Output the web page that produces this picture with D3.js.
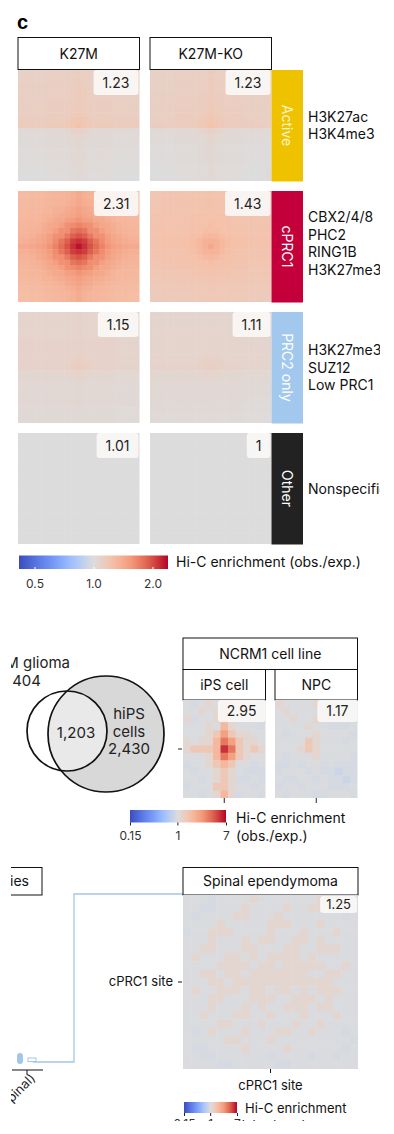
<!DOCTYPE html>
<html>
<head>
<meta charset="utf-8">
<script src="https://cdn.jsdelivr.net/npm/d3@7"></script>
<style>
  body { margin: 0; background: #fff; }
  svg { display: block; font-family: Inter, "Noto Sans", sans-serif; }
</style>
</head>
<body>
<div id="chart"></div>
<script>
// ---- data ----
const conditions = ["K27M", "K27M-KO"];
const siteClasses = ["Active", "cPRC1", "PRC2 only", "Other"];
const siteMarks = [
    ["H3K27ac", "H3K4me3"],
    ["CBX2/4/8", "PHC2", "RING1B", "H3K27me3"],
    ["H3K27me3", "SUZ12", "Low PRC1"],
    ["Nonspecific"]
];
const apaScores = [[1.23, 1.23], [2.31, 1.43], [1.15, 1.11], [1.01, 1]];

// aggregate maps: row profile, column profile (21 bins, centre = site)
// and a radial peak factor by distance (in bins) from the centre
const activeK27M_rows = [1.10,1.10,1.10,1.11,1.11,1.11,1.12,1.12,1.12,1.13,1.14,1.03,1.02,1.02,1.02,1.01,1.01,1.01,1.01,1.00,1.00];
const activeK27M_cols = [1.00,1.00,1.00,1.00,1.00,1.01,1.01,1.01,1.01,1.02,1.03,1.02,1.01,1.01,1.01,1.01,1.00,1.00,1.00,1.00,1.00];
const activeK27M_peak = [1.05,1.03,1.01,1.00,1.00,1.00,1.00,1.00,1.00,1.00,1.00,1.00,1.00,1.00,1.00];
const activeKO_rows   = [1.10,1.10,1.10,1.10,1.11,1.11,1.11,1.12,1.12,1.12,1.13,1.03,1.02,1.02,1.01,1.01,1.01,1.01,1.00,1.00,1.00];
const activeKO_cols   = [1.00,1.00,1.00,1.00,1.01,1.01,1.01,1.01,1.02,1.02,1.04,1.02,1.02,1.01,1.01,1.01,1.00,1.00,1.00,1.00,0.99];
const activeKO_peak   = [1.045,1.03,1.01,1.00,1.00,1.00,1.00,1.00,1.00,1.00,1.00,1.00,1.00,1.00,1.00];
const cprc1K27M_rows  = [1.14,1.14,1.14,1.15,1.15,1.16,1.17,1.18,1.19,1.21,1.25,1.21,1.19,1.18,1.17,1.16,1.15,1.14,1.13,1.12,1.12];
const cprc1K27M_cols  = [1.13,1.13,1.14,1.14,1.15,1.16,1.17,1.18,1.19,1.21,1.25,1.21,1.19,1.18,1.17,1.16,1.15,1.14,1.14,1.13,1.13];
const cprc1K27M_peak  = [1.48,1.42,1.33,1.23,1.15,1.09,1.05,1.03,1.01,1.00,1.00,1.00,1.00,1.00,1.00];
const cprc1KO_rows    = [1.10,1.10,1.10,1.10,1.11,1.11,1.11,1.11,1.12,1.12,1.12,1.11,1.11,1.10,1.10,1.09,1.08,1.07,1.06,1.05,1.05];
const cprc1KO_cols    = [1.09,1.09,1.10,1.10,1.10,1.10,1.10,1.11,1.11,1.11,1.12,1.11,1.11,1.11,1.10,1.10,1.10,1.09,1.09,1.09,1.09];
const cprc1KO_peak    = [1.14,1.09,1.05,1.02,1.01,1.00,1.00,1.00,1.00,1.00,1.00,1.00,1.00,1.00,1.00];
const prc2K27M_rows   = [1.06,1.06,1.06,1.06,1.06,1.07,1.07,1.07,1.07,1.07,1.08,1.04,1.04,1.03,1.03,1.03,1.03,1.03,1.02,1.02,1.02];
const prc2K27M_cols   = [1.01,1.01,1.01,1.01,1.01,1.01,1.01,1.01,1.01,1.01,1.02,1.01,1.01,1.01,1.01,1.01,1.01,1.00,1.00,1.00,1.00];
const prc2K27M_peak   = [1.05,1.02,1.01,1.00,1.00,1.00,1.00,1.00,1.00,1.00,1.00,1.00,1.00,1.00,1.00];
const prc2KO_rows     = [1.04,1.04,1.04,1.05,1.05,1.05,1.05,1.05,1.05,1.05,1.06,1.03,1.03,1.02,1.02,1.02,1.01,1.01,1.01,1.00,1.00];
const prc2KO_cols     = [1.02,1.02,1.02,1.02,1.02,1.02,1.02,1.02,1.02,1.02,1.02,1.02,1.02,1.02,1.02,1.02,1.01,1.01,1.01,1.01,1.01];
const prc2KO_peak     = [1.03,1.02,1.01,1.00,1.00,1.00,1.00,1.00,1.00,1.00,1.00,1.00,1.00,1.00,1.00];
const otherK27M_rows  = [1.00,1.00,1.00,1.00,1.00,1.00,1.00,1.00,1.00,1.00,1.00,1.00,1.00,1.00,1.00,1.00,1.00,1.00,1.00,1.00,1.00];
const otherK27M_cols  = [1.00,1.00,1.00,1.00,1.00,1.00,1.00,1.00,1.00,1.00,1.00,1.00,1.00,1.00,1.00,1.00,1.00,1.00,1.00,1.00,1.00];
const otherK27M_peak  = [1.01,1.00,1.00,1.00,1.00,1.00,1.00,1.00,1.00,1.00,1.00,1.00,1.00,1.00,1.00];
const otherKO_rows    = [1.00,1.00,1.00,1.00,1.00,1.00,1.00,1.00,1.00,1.00,1.00,1.00,1.00,1.00,1.00,1.00,1.00,1.00,1.00,1.00,1.00];
const otherKO_cols    = [1.00,1.00,1.00,1.00,1.00,1.00,1.00,1.00,1.00,1.00,1.00,1.00,1.00,1.00,1.00,1.00,1.00,1.00,1.00,1.00,1.00];
const otherKO_peak    = [1.00,1.00,1.00,1.00,1.00,1.00,1.00,1.00,1.00,1.00,1.00,1.00,1.00,1.00,1.00];

const topTicks = [0.5, 1.0, 2.0];

// Venn
const vennGroups = ["K27M glioma", "hiPS cells"];
const vennCounts = ["1,404", "1,203", "2,430"];

// NCRM1 maps, one digit per bin (digit = index into binLevels)
const binLevels = [0.72, 0.87, 0.95, 1.0, 1.16, 1.45, 1.85, 2.5, 3.5, 5.5];
const ncrmLines = ["iPS cell", "NPC"];
const ncrmScores = [2.95, 1.17];
const ipsBins = [
    "32343534332",
    "33434543323",
    "42334543233",
    "33343643332",
    "33345754433",
    "43446875443",
    "45556985454",
    "33346875433",
    "23345653323",
    "32334543222",
    "33234542232",
    "23335543323",
    "33234642332"
];
const npcBins = [
    "43333433232",
    "34333333323",
    "33433433332",
    "33334332223",
    "32333433332",
    "33335433323",
    "33345433333",
    "32333433332",
    "22323323222",
    "23332322122",
    "32233232212",
    "23323332223",
    "32333223332"
];
const bottomTicks = [0.15, 1, 7];

// spinal ependymoma map
const spinalScore = 1.25;
const spinalBins = [
    "333233334333333343333",
    "332233343333433443333",
    "323333443334333333323",
    "333343333344433343333",
    "233444333343334333433",
    "333433343443344343333",
    "334433344333443344433",
    "343334434344443433333",
    "333344443443444443343",
    "334434434444444334433",
    "333443444444444444333",
    "343344434434434344433",
    "333443334443344434333",
    "333433343433444344333",
    "334333443343334333433",
    "333344333433343343333",
    "323433343334433433323",
    "333334433343333333332",
    "322333343333433333323",
    "332233333323333233233",
    "333322333332233333333"
];

// ---- styles ----
const classColors = ["#efc200", "#c4003a", "#a2c8ee", "#222222"];
const classTextColors = ["#fff4c8", "#ffffff", "#ffffff", "#ffffff"];
const coolwarm = d3.piecewise(d3.interpolateRgb, ["#3b4cc0", "#5a78e4", "#7b9ff9", "#a9c6fd", "#dddcdc", "#f5c1a9", "#f49a7b", "#dc5d4a", "#b40426"]);
const topColor = d3.scaleSequentialLog(coolwarm).domain([1 / 2.4, 2.4]).clamp(true);
const bottomColor = d3.scaleSequentialLog(coolwarm).domain([0.15, 7]).clamp(true);

const width = 394, height = 1134;
const svg = d3.select("#chart").append("svg")
    .attr("width", width)
    .attr("height", height);

const defs = svg.append("defs");
// the figure is a crop: nothing left of x=11, right of x=380, below y=1121
defs.append("clipPath").attr("id", "page")
    .append("rect").attr("x", 11).attr("y", 0).attr("width", 369).attr("height", 1121);

const root = svg.append("g").attr("clip-path", "url(#page)");

// ---- helpers ----
function drawGrid(g, grid, x0, y0, w, h, color) {
    const nr = grid.length, nc = grid[0].length;
    const x = d3.scaleBand().domain(d3.range(nc)).range([x0, x0 + w]);
    const y = d3.scaleBand().domain(d3.range(nr)).range([y0, y0 + h]);
    const cells = grid.flatMap((row, i) => row.map((v, j) => ({ i, j, v })));
    g.selectAll(null)
        .data(cells)
        .enter()
        .append("rect")
        .attr("x", d => x(d.j))
        .attr("y", d => y(d.i))
        .attr("width", d => x.bandwidth() + (d.j < nc - 1 ? 0.5 : 0))
        .attr("height", d => y.bandwidth() + (d.i < nr - 1 ? 0.5 : 0))
        .attr("fill", d => color(d.v));
    return { x, y };
}

function valueTag(g, label, right, top, fs, h) {
    const tag = g.append("g");
    const rect = tag.append("rect");
    const t = tag.append("text")
        .attr("font-size", fs)
        .attr("fill", "#222")
        .attr("text-anchor", "middle")
        .text(label);
    const tw = t.node().getComputedTextLength();
    const bw = tw + (fs > 13 ? 18 : 12);
    rect.attr("x", right - bw).attr("y", top)
        .attr("width", bw).attr("height", h)
        .attr("rx", 3)
        .attr("fill", "#faf7f5")
        .attr("fill-opacity", 0.93);
    t.attr("x", right - bw / 2).attr("y", top + h / 2).attr("dy", "0.36em");
}

function headerBox(g, label, x0, y0, w, h, anchor, tx) {
    g.append("rect")
        .attr("x", x0).attr("y", y0)
        .attr("width", w).attr("height", h)
        .attr("fill", "#fff")
        .attr("stroke", "#111")
        .attr("stroke-width", 1);
    g.append("text")
        .attr("x", tx !== undefined ? tx : x0 + w / 2)
        .attr("y", y0 + h / 2)
        .attr("dy", "0.36em")
        .attr("text-anchor", anchor || "middle")
        .attr("font-size", 14)
        .attr("fill", "#111")
        .text(label);
}

function colorBar(g, id, color, ticks, x0, x1, y0, h, tickFmt, tickStyle, pad) {
    const grad = defs.append("linearGradient").attr("id", id);
    d3.range(0, 1.0001, 0.05).forEach(t => {
        grad.append("stop").attr("offset", t).attr("stop-color", coolwarm(t));
    });
    g.append("rect")
        .attr("x", x0).attr("y", y0)
        .attr("width", x1 - x0).attr("height", h)
        .attr("fill", `url(#${id})`);
    const scale = d3.scaleLog().domain(color.domain()).range([x0, x1]);
    const axis = g.append("g")
        .attr("transform", `translate(0,${y0 + h})`)
        .call(d3.axisBottom(scale).tickValues(ticks).tickFormat(tickFmt)
            .tickSize(tickStyle === "inner" ? -2 : 3).tickPadding(pad));
    axis.select(".domain").remove();
    axis.selectAll(".tick line")
        .attr("stroke", tickStyle === "inner" ? "#fff" : "#222");
    axis.selectAll(".tick text")
        .attr("font-size", 12)
        .attr("font-family", "Inter, sans-serif")
        .attr("fill", "#333");
    return scale;
}

// ---- panel c: aggregate maps by site class ----
root.append("text")
    .attr("x", 17).attr("y", 29)
    .attr("font-size", 20)
    .attr("font-weight", "900")
    .attr("font-family", "Arial, 'Liberation Sans', sans-serif")
    .text("c");

const mapX = [18, 150];
const mapW = 121.5;
const rowY = [70, 191, 312, 433];
const mapH = 111;

conditions.forEach((c, k) => headerBox(root, c, mapX[k], 37.5, mapW, 32));

const profiles = [
    [[activeK27M_rows, activeK27M_cols, activeK27M_peak], [activeKO_rows, activeKO_cols, activeKO_peak]],
    [[cprc1K27M_rows, cprc1K27M_cols, cprc1K27M_peak], [cprc1KO_rows, cprc1KO_cols, cprc1KO_peak]],
    [[prc2K27M_rows, prc2K27M_cols, prc2K27M_peak], [prc2KO_rows, prc2KO_cols, prc2KO_peak]],
    [[otherK27M_rows, otherK27M_cols, otherK27M_peak], [otherKO_rows, otherKO_cols, otherKO_peak]]
];

siteClasses.forEach((cls, r) => {
    const g = root.append("g");
    profiles[r].forEach(([rows, cols, peak], k) => {
        const c = (rows.length - 1) / 2;
        const grid = rows.map((rv, i) => cols.map((cv, j) =>
            rv * cv * peak[Math.round(Math.hypot(i - c, j - c))]));
        drawGrid(g, grid, mapX[k], rowY[r], mapW, mapH, topColor);
        valueTag(g, String(apaScores[r][k]), mapX[k] + mapW - 1, rowY[r], 14, 25);
    });

    // class bar
    g.append("rect")
        .attr("x", 271.5).attr("y", rowY[r])
        .attr("width", 31.5).attr("height", mapH + 0.5)
        .attr("fill", classColors[r]);
    g.append("text")
        .attr("transform", `translate(287,${rowY[r] + mapH / 2}) rotate(90)`)
        .attr("text-anchor", "middle")
        .attr("dy", "0.36em")
        .attr("font-size", 14)
        .attr("fill", classTextColors[r])
        .text(cls);

    // marks
    const lines = siteMarks[r];
    g.selectAll(null)
        .data(lines)
        .enter()
        .append("text")
        .attr("x", 308)
        .attr("y", (d, i) => rowY[r] + mapH / 2 + (i - (lines.length - 1) / 2) * 17.5 - (r === 1 ? 3 : 0))
        .attr("dy", "0.36em")
        .attr("font-size", 14)
        .attr("fill", "#111")
        .text(d => d);
});

// top colour bar
const topBar = root.append("g");
colorBar(topBar, "grad-top", topColor, topTicks, 19, 168, 555.5, 13.5, d3.format(".1f"), "inner", 10);
topBar.append("text")
    .attr("x", 176).attr("y", 562)
    .attr("dy", "0.36em")
    .attr("font-size", 14)
    .attr("fill", "#111")
    .text("Hi-C enrichment (obs./exp.)");

// ---- Venn ----
const venn = root.append("g");
const vennLayout = { left: { cx: 67, cy: 731, r: 40 }, right: { cx: 106, cy: 734, r: 58 } };
defs.append("clipPath").attr("id", "venn-left")
    .append("circle")
    .attr("cx", vennLayout.left.cx).attr("cy", vennLayout.left.cy).attr("r", vennLayout.left.r);
venn.append("circle")
    .attr("cx", vennLayout.right.cx).attr("cy", vennLayout.right.cy).attr("r", vennLayout.right.r)
    .attr("fill", "#d8d8d8");
venn.append("circle")
    .attr("cx", vennLayout.right.cx).attr("cy", vennLayout.right.cy).attr("r", vennLayout.right.r)
    .attr("clip-path", "url(#venn-left)")
    .attr("fill", "#e9e9e9");
[vennLayout.left, vennLayout.right].forEach(c => {
    venn.append("circle")
        .attr("cx", c.cx).attr("cy", c.cy).attr("r", c.r)
        .attr("fill", "none")
        .attr("stroke", "#111")
        .attr("stroke-width", 1.7);
});
venn.append("text")
    .attr("x", 70).attr("y", 663).attr("dy", "0.36em")
    .attr("text-anchor", "end").attr("font-size", 15).attr("fill", "#222")
    .text(vennGroups[0]);
venn.append("text")
    .attr("x", 41).attr("y", 681).attr("dy", "0.36em")
    .attr("text-anchor", "end").attr("font-size", 15).attr("fill", "#222")
    .text(vennCounts[0]);
venn.append("text")
    .attr("x", 76).attr("y", 733).attr("dy", "0.36em")
    .attr("text-anchor", "middle").attr("font-size", 15).attr("fill", "#222")
    .text(vennCounts[1]);
["hiPS", "cells", vennCounts[2]].forEach((s, i) => {
    venn.append("text")
        .attr("x", 129).attr("y", 714 + i * 17.5).attr("dy", "0.36em")
        .attr("text-anchor", "middle").attr("font-size", 15).attr("fill", "#222")
        .text(s);
});

// ---- NCRM1 maps ----
const ncrm = root.append("g");
headerBox(ncrm, "NCRM1 cell line", 183, 638, 174.5, 31.5);
const ncrmX = [183, 275];
const ncrmW = 82.5;
ncrmLines.forEach((name, k) => {
    headerBox(ncrm, name, ncrmX[k], 669.5, ncrmW, 30.5);
    const grid = (k === 0 ? ipsBins : npcBins).map(s => s.split("").map(ch => binLevels[+ch]));
    const sc = drawGrid(ncrm, grid, ncrmX[k], 700, ncrmW, 98, bottomColor);
    valueTag(ncrm, String(ncrmScores[k]), ncrmX[k] + ncrmW, 700, 14, 22);
    // ticks at the site bin
    const cx = sc.x(5) + sc.x.bandwidth() / 2;
    ncrm.append("line")
        .attr("x1", cx).attr("x2", cx).attr("y1", 798).attr("y2", 803)
        .attr("stroke", "#222");
    if (k === 0) {
        const cy = sc.y(6) + sc.y.bandwidth() / 2;
        ncrm.append("line")
            .attr("x1", 178).attr("x2", 182).attr("y1", cy).attr("y2", cy)
            .attr("stroke", "#222");
    }
});
const midBar = root.append("g");
colorBar(midBar, "grad-mid", bottomColor, bottomTicks, 130, 226, 810, 12.5, d => String(d), "outer", 6);
midBar.append("text")
    .attr("x", 236).attr("y", 818).attr("dy", "0.36em")
    .attr("font-size", 14).attr("fill", "#111")
    .text("Hi-C enrichment");
midBar.append("text")
    .attr("x", 236).attr("y", 836).attr("dy", "0.36em")
    .attr("font-size", 14).attr("fill", "#111")
    .text("(obs./exp.)");

// ---- tumour entities / spinal ependymoma ----
const low = root.append("g");
headerBox(low, "Tumour entities", -60, 867.5, 102, 27.5, "end", 29);

const linkColor = "#a3c6ea";
low.append("path")
    .attr("d", "M33,1062H74V894H183")
    .attr("fill", "none")
    .attr("stroke", linkColor)
    .attr("stroke-width", 1.3);
low.append("rect")
    .attr("x", 17).attr("y", 1053).attr("width", 6).attr("height", 11).attr("rx", 3)
    .attr("fill", linkColor);
low.append("rect")
    .attr("x", 28).attr("y", 1058).attr("width", 8).attr("height", 3.5)
    .attr("fill", "#fff").attr("stroke", linkColor).attr("stroke-width", 1);
low.append("line")
    .attr("x1", 12).attr("x2", 43).attr("y1", 1070).attr("y2", 1070)
    .attr("stroke", "#111");
low.append("line")
    .attr("x1", 27).attr("x2", 27).attr("y1", 1070).attr("y2", 1074)
    .attr("stroke", "#111");
low.append("text")
    .attr("transform", "translate(36,1079) rotate(-45)")
    .attr("text-anchor", "end")
    .attr("font-size", 13).attr("fill", "#222")
    .text("Ependymoma (spinal)");

headerBox(low, "Spinal ependymoma", 183, 867.5, 175, 27.5);
const spGrid = spinalBins.map(s => s.split("").map(ch => binLevels[+ch]));
const sp = drawGrid(low, spGrid, 183, 895, 175, 174, bottomColor);
valueTag(low, String(spinalScore), 357, 896, 13, 17);
const spC = sp.x(10) + sp.x.bandwidth() / 2;
const spR = sp.y(10) + sp.y.bandwidth() / 2;
low.append("line").attr("x1", spC).attr("x2", spC).attr("y1", 1069).attr("y2", 1073).attr("stroke", "#111");
low.append("line").attr("x1", 178).attr("x2", 182).attr("y1", spR).attr("y2", spR).attr("stroke", "#111");
low.append("text")
    .attr("x", 173).attr("y", spR - 1).attr("dy", "0.36em")
    .attr("text-anchor", "end").attr("font-size", 13).attr("fill", "#111")
    .text("cPRC1 site");
low.append("text")
    .attr("x", spC).attr("y", 1085).attr("dy", "0.36em")
    .attr("text-anchor", "middle").attr("font-size", 13).attr("fill", "#111")
    .text("cPRC1 site");

const lowBar = root.append("g");
colorBar(lowBar, "grad-low", bottomColor, bottomTicks, 184, 237, 1102, 11, d => String(d), "outer", 3);
lowBar.append("text")
    .attr("x", 245).attr("y", 1108).attr("dy", "0.36em")
    .attr("font-size", 13).attr("fill", "#111")
    .text("Hi-C enrichment");
lowBar.append("text")
    .attr("x", 240).attr("y", 1125).attr("dy", "0.36em")
    .attr("font-size", 13).attr("fill", "#111")
    .text("(obs./exp.)");
</script>
</body>
</html>
